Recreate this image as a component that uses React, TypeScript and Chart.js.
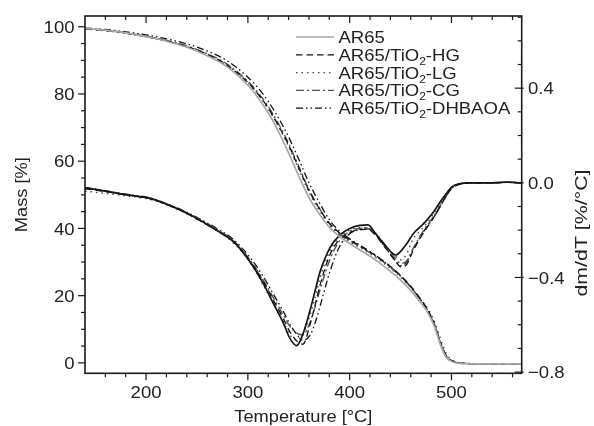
import React, { useEffect, useRef } from "react";
import { Chart, registerables } from "chart.js";

Chart.register(...registerables);

// ---------- data ----------
const seriesLabels = ["AR65", "AR65/TiO₂-HG", "AR65/TiO₂-LG", "AR65/TiO₂-CG", "AR65/TiO₂-DHBAOA"];

const tgTemps = [140, 160, 180, 200, 220, 240, 260, 280, 300, 310, 320, 330, 340, 350, 360, 370, 380, 390, 400, 410, 420, 430, 440, 450, 460, 470, 477, 484, 489, 495, 502, 510, 540, 569];

const tgAR65 = [99.5, 99.0, 98.2, 97.1, 95.7, 93.9, 91.4, 88.0, 82.6, 78.9, 74.4, 68.9, 62.5, 55.6, 49.2, 44.4, 40.4, 37.6, 35.5, 33.6, 31.7, 29.6, 27.2, 24.6, 21.5, 17.8, 14.8, 10.2, 5.5, 1.6, 0.2, -0.2, -0.3, -0.3];
const tgHG = [99.4, 98.9, 98.1, 97.1, 95.8, 94.1, 91.8, 88.5, 83.4, 80.0, 75.8, 70.6, 64.8, 58.0, 51.3, 46.0, 41.6, 38.7, 36.6, 34.8, 33.0, 31.0, 28.7, 26.0, 22.8, 18.8, 15.6, 10.8, 6.2, 2.1, 0.4, -0.1, -0.3, -0.3];
const tgLG = [99.3, 98.8, 98.0, 97.0, 95.7, 94.0, 91.7, 88.4, 83.3, 79.8, 75.6, 70.4, 64.4, 57.6, 50.8, 45.5, 41.1, 38.2, 36.1, 34.3, 32.5, 30.5, 28.1, 25.5, 22.4, 18.8, 16.0, 11.8, 7.2, 2.8, 0.6, 0.0, -0.3, -0.3];
const tgCG = [99.5, 99.0, 98.2, 97.2, 95.9, 94.3, 92.0, 88.8, 83.8, 80.4, 76.3, 71.2, 65.3, 58.5, 51.6, 46.1, 41.5, 38.5, 36.4, 34.6, 32.8, 30.8, 28.4, 25.8, 22.5, 18.6, 15.4, 10.7, 6.0, 2.0, 0.4, -0.1, -0.3, -0.3];
const tgDHBAOA = [99.6, 99.2, 98.5, 97.6, 96.4, 94.9, 92.8, 89.8, 85.0, 81.8, 77.8, 72.9, 67.2, 60.6, 53.6, 47.8, 42.6, 39.2, 36.9, 35.0, 33.1, 31.0, 28.6, 25.9, 22.6, 18.7, 15.5, 10.8, 6.1, 2.0, 0.4, -0.1, -0.3, -0.3];

const dtgTemps = [140, 160, 180, 204, 220, 237, 253, 269, 286, 302, 315, 325, 335, 341, 348, 354, 361, 367, 371, 381, 390, 400, 410, 418, 426, 436, 445, 450, 456, 462, 472, 482, 489, 495, 500, 508, 520, 540, 555, 569];

const dtgAR65 = [-0.02, -0.035, -0.05, -0.066, -0.09, -0.122, -0.158, -0.2, -0.249, -0.334, -0.425, -0.509, -0.594, -0.655, -0.688, -0.64, -0.54, -0.44, -0.375, -0.272, -0.222, -0.193, -0.18, -0.178, -0.218, -0.27, -0.305, -0.29, -0.258, -0.218, -0.175, -0.125, -0.08, -0.045, -0.018, -0.004, 0.0, 0.0, 0.003, 0.0];
const dtgHG = [-0.025, -0.037, -0.05, -0.068, -0.09, -0.122, -0.16, -0.2, -0.25, -0.33, -0.415, -0.495, -0.575, -0.628, -0.668, -0.682, -0.6, -0.5, -0.43, -0.3, -0.24, -0.21, -0.198, -0.197, -0.225, -0.28, -0.33, -0.355, -0.345, -0.29, -0.215, -0.15, -0.1, -0.055, -0.025, -0.006, 0.0, 0.0, 0.002, 0.0];
const dtgLG = [-0.035, -0.045, -0.055, -0.07, -0.092, -0.125, -0.16, -0.2, -0.255, -0.335, -0.43, -0.51, -0.59, -0.64, -0.665, -0.64, -0.56, -0.47, -0.4, -0.285, -0.23, -0.2, -0.19, -0.19, -0.22, -0.27, -0.31, -0.325, -0.3, -0.24, -0.19, -0.135, -0.09, -0.05, -0.02, -0.005, 0.0, 0.0, 0.002, 0.0];
const dtgCG = [-0.022, -0.035, -0.05, -0.066, -0.09, -0.12, -0.155, -0.195, -0.245, -0.325, -0.41, -0.485, -0.56, -0.605, -0.635, -0.643, -0.59, -0.51, -0.45, -0.32, -0.245, -0.205, -0.193, -0.19, -0.215, -0.27, -0.32, -0.34, -0.33, -0.28, -0.205, -0.145, -0.095, -0.05, -0.022, -0.005, 0.0, 0.0, 0.002, 0.0];
const dtgDHBAOA = [-0.02, -0.033, -0.048, -0.064, -0.088, -0.118, -0.153, -0.192, -0.24, -0.315, -0.395, -0.47, -0.545, -0.595, -0.64, -0.665, -0.645, -0.58, -0.52, -0.37, -0.27, -0.215, -0.198, -0.195, -0.22, -0.28, -0.33, -0.35, -0.335, -0.285, -0.21, -0.15, -0.1, -0.055, -0.024, -0.006, 0.0, 0.0, 0.002, 0.0];

const xTicks = [200, 300, 400, 500];
const massTicks = [0, 20, 40, 60, 80, 100];
const dmTicks = [-0.8, -0.4, 0.0, 0.4];

const xTitle = "Temperature [°C]";
const yTitle = "Mass [%]";
const y2Title = "dm/dT [%/°C]";

// ---------- styles ----------
const FONT = "'Liberation Sans', Arial, Helvetica, sans-serif";
const TEXT = "#222";
const HS = 1.09; // horizontal stretch of the reference lettering
const tgColors = ["#a8a8a8", "#111", "#444", "#555", "#111"];
const dtgColors = ["#151515", "#111", "#444", "#555", "#111"];
const dashes: number[][] = [[], [6.5, 4], [1.5, 4], [8, 3, 2, 3], [7, 3, 1.5, 3, 1.5, 3]];
const widths = [1.7, 1.3, 1.4, 1.4, 1.3];

const tgSeries = [tgAR65, tgHG, tgLG, tgCG, tgDHBAOA];
const dtgSeries = [dtgAR65, dtgHG, dtgLG, dtgCG, dtgDHBAOA];

const fmtMinus = (v: number) => (v < 0 ? "\u2212" : "") + Math.abs(v).toFixed(1);

function txt(ctx: any, s: string, x: number, y: number, align: string, size: number, hs: number, rot = 0, baseline = "alphabetic") {
  ctx.save();
  ctx.font = `${size}px ${FONT}`;
  ctx.fillStyle = TEXT;
  ctx.textAlign = align;
  ctx.textBaseline = baseline;
  ctx.translate(x, y);
  if (rot) ctx.rotate(rot);
  ctx.scale(hs, 1);
  ctx.fillText(s, 0, 0);
  ctx.restore();
}

const framePlugin = {
  id: "frameTicks",
  afterDraw(chart: any) {
    const { ctx, chartArea: ca, scales } = chart;
    const sx = scales.x, sy = scales.y, sy2 = scales.y2;
    ctx.save();
    ctx.strokeStyle = "#1a1a1a";
    ctx.lineWidth = 1.2;
    const ln = (x1: number, y1: number, x2: number, y2: number) => {
      ctx.beginPath();
      ctx.moveTo(x1, y1);
      ctx.lineTo(x2, y2);
      ctx.stroke();
    };
    for (let v = 160; v < sx.max; v += 20) {
      const px = sx.getPixelForValue(v);
      const major = v % 100 === 0;
      const len = major ? 7 : 4;
      ln(px, ca.bottom, px, ca.bottom + len);
      ln(px, ca.top, px, ca.top + len);
    }
    for (let v = 0; v <= 100; v += 5) {
      const py = sy.getPixelForValue(v);
      const major = v % 20 === 0;
      ln(ca.left - (major ? 7 : 4), py, ca.left, py);
    }
    for (let k = -8; k <= 7; k++) {
      const v = k / 10;
      const py = sy2.getPixelForValue(v);
      const major = k % 4 === 0;
      ln(ca.right - (major ? 7 : 4), py, ca.right + (major ? 2 : 0), py);
    }
    ctx.lineWidth = 1.6;
    ctx.strokeRect(ca.left, ca.top, ca.right - ca.left, ca.bottom - ca.top);

    // tick labels
    xTicks.forEach((v) => txt(ctx, String(v), sx.getPixelForValue(v), 397.5, "center", 17, HS));
    massTicks.forEach((v) => txt(ctx, String(v), 74.5, sy.getPixelForValue(v) + 6.1, "right", 17, HS));
    dmTicks.forEach((v) => txt(ctx, fmtMinus(v), 528, sy2.getPixelForValue(v) + 6.1, "left", 17, HS));

    // axis titles (stretched to the reference lengths)
    ctx.font = `17px ${FONT}`;
    const fit = (s: string, len: number) => len / ctx.measureText(s).width;
    txt(ctx, xTitle, (ca.left + ca.right) / 2, 422, "center", 17, fit(xTitle, 138));
    txt(ctx, yTitle, 22.5, (ca.top + ca.bottom) / 2, "center", 17, fit(yTitle, 75), -Math.PI / 2, "middle");
    txt(ctx, y2Title, 582.5, 233, "center", 17, fit(y2Title, 127), -Math.PI / 2, "middle");

    // legend
    seriesLabels.forEach((label, i) => {
      const yy = 37 + i * 17.8;
      ctx.strokeStyle = tgColors[i];
      ctx.lineWidth = widths[i];
      ctx.setLineDash(dashes[i]);
      ctx.beginPath();
      ctx.moveTo(296, yy);
      ctx.lineTo(334, yy);
      ctx.stroke();
      ctx.setLineDash([]);
      const parts = label.split("₂");
      let xx = 338.5;
      const base = yy + 6;
      txt(ctx, parts[0], xx, base, "left", 17, HS);
      ctx.font = `17px ${FONT}`;
      xx += ctx.measureText(parts[0]).width * HS;
      if (parts.length > 1) {
        txt(ctx, "2", xx, base + 4, "left", 11, HS);
        ctx.font = `11px ${FONT}`;
        xx += ctx.measureText("2").width * HS;
        txt(ctx, parts[1], xx, base, "left", 17, HS);
      }
    });
    ctx.restore();
  },
};

export default function App() {
  const ref = useRef<HTMLCanvasElement | null>(null);

  useEffect(() => {
    if (!ref.current) return;
    const datasets: any[] = [];
    tgSeries.forEach((vals, i) => {
      datasets.push({
        label: seriesLabels[i] + " TG",
        data: tgTemps.map((t, j) => ({ x: t, y: vals[j] })),
        yAxisID: "y",
        borderColor: tgColors[i],
        borderDash: dashes[i],
        borderWidth: widths[i],
        pointRadius: 0,
        fill: false,
        cubicInterpolationMode: "monotone",
      });
    });
    dtgSeries.forEach((vals, i) => {
      datasets.push({
        label: seriesLabels[i] + " DTG",
        data: dtgTemps.map((t, j) => ({ x: t, y: vals[j] })),
        yAxisID: "y2",
        borderColor: dtgColors[i],
        borderDash: dashes[i],
        borderWidth: widths[i],
        pointRadius: 0,
        fill: false,
        cubicInterpolationMode: "monotone",
      });
    });

    const hidden = { display: false };
    const chart = new Chart(ref.current, {
      type: "line",
      data: { datasets },
      options: {
        responsive: false,
        animation: false,
        devicePixelRatio: 1,
        layout: { padding: { top: 16, left: 0, right: 0, bottom: 0 } },
        plugins: { legend: { display: false }, tooltip: { enabled: false } },
        scales: {
          x: {
            type: "linear",
            position: "bottom",
            min: 140,
            max: 569,
            grid: { display: false, drawTicks: false },
            border: { display: false },
            ticks: hidden,
            afterBuildTicks: (s: any) => {
              s.ticks = xTicks.map((v) => ({ value: v }));
            },
            afterFit: (s: any) => {
              s.height = 52.7;
            },
          },
          y: {
            type: "linear",
            position: "left",
            min: -3.1,
            max: 103.2,
            grid: { display: false, drawTicks: false },
            border: { display: false },
            ticks: hidden,
            afterBuildTicks: (s: any) => {
              s.ticks = massTicks.map((v) => ({ value: v }));
            },
            afterFit: (s: any) => {
              s.width = 85;
            },
          },
          y2: {
            type: "linear",
            position: "right",
            min: -0.805,
            max: 0.705,
            grid: { display: false, drawTicks: false },
            border: { display: false },
            ticks: hidden,
            afterBuildTicks: (s: any) => {
              s.ticks = dmTicks.map((v) => ({ value: v }));
            },
            afterFit: (s: any) => {
              s.width = 72.3;
            },
          },
        },
      } as any,
      plugins: [framePlugin],
    });
    return () => chart.destroy();
  }, []);

  return (
    <div style={{ position: "fixed", left: 0, top: 0, width: 594, height: 426, background: "#fff" }}>
      <canvas ref={ref} width={594} height={426} style={{ width: 594, height: 426, display: "block" }} />
    </div>
  );
}
